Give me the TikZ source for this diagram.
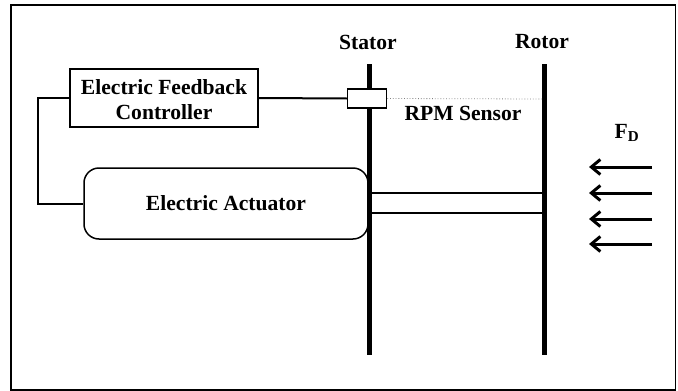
\documentclass[tikz,border=0pt]{standalone}
\usepackage{fontspec}
\setmainfont{Liberation Serif}
\usetikzlibrary{arrows.meta}
\begin{document}
\begin{tikzpicture}[x=1pt,y=-1pt,
  lbl/.style={font=\fontsize{21.6}{25}\selectfont\bfseries, inner sep=0pt},
  boxstyle/.style={draw, line width=1.5pt, fill=white, inner sep=0pt},
  wire/.style={line width=2pt},
  shaft/.style={line width=5pt},
  force/.style={line width=3pt, -{Straight Barb[length=9pt,width=15pt,line width=3pt]}}
]
\useasboundingbox (0,0) rectangle (678,391);
\draw[line width=1.2pt] (11,5) rectangle (675.5,390);

% stator and rotor
\coordinate (stT) at (369,64);
\coordinate (stB) at (369,355);
\coordinate (roT) at (544,64);
\coordinate (roB) at (544,355);

% actuator (behind stator)
\node[boxstyle, rounded corners=15pt, minimum width=284pt, minimum height=71pt] (act) at (226,203.5) {};
\node[lbl] (acttext) at (226,203) {Electric Actuator};

\draw[shaft] (stT) -- (stB);
\draw[shaft] (roT) -- (roB);

\node[lbl] (stlabel) at (368,42) {Stator};
\node[lbl] (rolabel) at (542,42) {Rotor};

% controller
\node[boxstyle, minimum width=188pt, minimum height=58pt] (ctrl) at (164,98) {};
\node[lbl, align=center] (ctrltext) at (164,99.5) {Electric Feedback\\Controller};

% sensor
\node[boxstyle, minimum width=39pt, minimum height=19pt] (sensor) at (367,98.5) {};
\node[lbl] (rpm) at (463,113) {RPM Sensor};

\coordinate (rs) at (542,99);
\draw[wire] (ctrl.east) -- (sensor.west);
\draw[gray, line width=0.8pt, dotted] (sensor.east) -- (rs);

% feedback loop
\coordinate (loopL) at (38,98);
\draw[wire] (ctrl.west) -- (loopL) |- (act.west);

% shafts between stator and rotor
\coordinate (s1) at (371.5,193);
\coordinate (r1) at (541.5,193);
\coordinate (s2) at (371.5,213);
\coordinate (r2) at (541.5,213);
\draw[wire] (s1) -- (r1);
\draw[wire] (s2) -- (r2);

% force
\node[lbl] (fd) at (627,133) {F\textsubscript{D}};
\foreach \y/\n in {167/a,193/b,219/c,244/d}{
  \coordinate (fs\n) at (652,\y);
  \coordinate (fe\n) at (589,\y);
  \draw[force] (fs\n) -- (fe\n);
}
\end{tikzpicture}
\end{document}
